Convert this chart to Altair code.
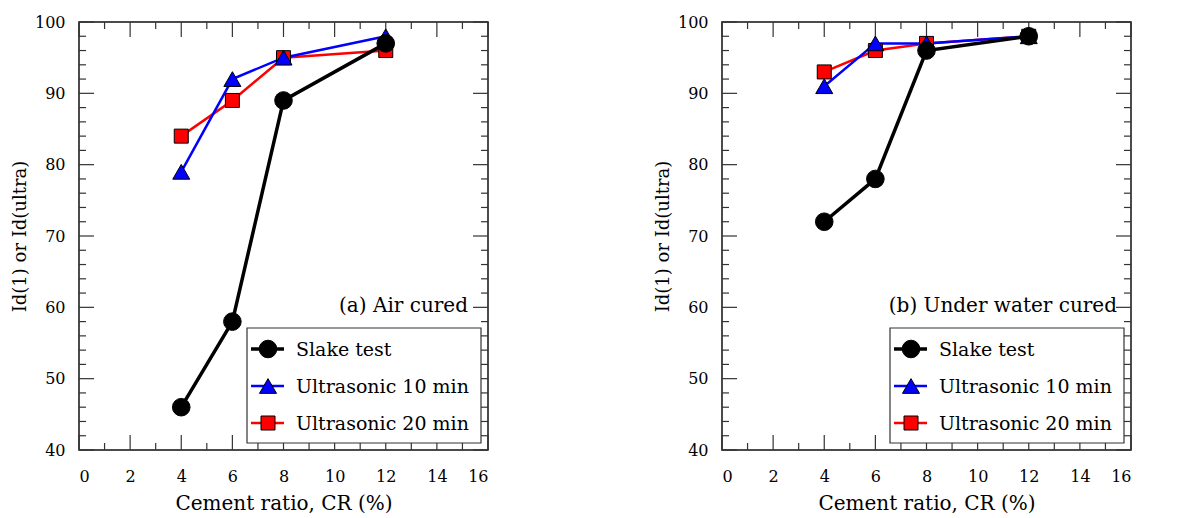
import altair as alt
import pandas as pd

# ---------------- data ----------------
cr = [4, 6, 8, 12]
air_slake = [46, 58, 89, 97]
air_u10 = [79, 92, 95, 98]
air_u20 = [84, 89, 95, 96]
water_slake = [72, 78, 96, 98]
water_u10 = [91, 97, 97, 98]
water_u20 = [93, 96, 97, 98]

series_names = ["Slake test", "Ultrasonic 10 min", "Ultrasonic 20 min"]
panel_labels = ["(a) Air cured", "(b) Under water cured"]
x_title = "Cement ratio, CR (%)"
y_title = "Id(1) or Id(ultra)"
x_ticks = list(range(0, 17, 2))
x_minor = list(range(1, 16, 2))
y_ticks = list(range(40, 101, 10))
y_minor = [v for v in range(42, 100, 2) if v % 10 != 0]

FONT = "DejaVu Serif"
W, H = 409, 428

style = {
    "Slake test": dict(color="#000000", shape="circle", size=310, lw=3.5),
    "Ultrasonic 10 min": dict(color="#0000FF", shape="triangle-up", size=290, lw=2.5),
    "Ultrasonic 20 min": dict(color="#FF0000", shape="square", size=196, lw=2.5),
}

xs = alt.Scale(domain=[0, 16], nice=False, zero=False)
ys = alt.Scale(domain=[40, 100], nice=False, zero=False)


def panel(values, label, text_right):
    layers = []

    def xt(vals, ln):
        d = pd.DataFrame({"x": vals})
        bot = alt.Chart(d).mark_rule(color="#333333", strokeWidth=1.2).encode(
            x=alt.X("x:Q", scale=xs), y=alt.value(H), y2=alt.value(H - ln))
        top = alt.Chart(d).mark_rule(color="#333333", strokeWidth=1.2).encode(
            x=alt.X("x:Q", scale=xs), y=alt.value(0), y2=alt.value(ln))
        return [bot, top]

    def yt(vals, ln):
        d = pd.DataFrame({"y": vals})
        lft = alt.Chart(d).mark_rule(color="#333333", strokeWidth=1.2).encode(
            y=alt.Y("y:Q", scale=ys), x=alt.value(0), x2=alt.value(ln))
        rgt = alt.Chart(d).mark_rule(color="#333333", strokeWidth=1.2).encode(
            y=alt.Y("y:Q", scale=ys), x=alt.value(W), x2=alt.value(W - ln))
        return [lft, rgt]

    layers += xt(x_ticks, 15) + xt(x_minor, 7) + yt(y_ticks, 15) + yt(y_minor, 7)

    axes_df = pd.DataFrame({"x": [0, 16], "y": [40, 100]})
    axes = alt.Chart(axes_df).mark_point(opacity=0).encode(
        x=alt.X("x:Q", scale=xs, title=x_title,
                axis=alt.Axis(values=x_ticks, ticks=False, domain=False, grid=False,
                              labelPadding=18, titlePadding=9, labelFontSize=16,
                              titleFontSize=20, labelFont=FONT, titleFont=FONT,
                              titleFontWeight="normal", labelColor="#000000",
                              titleColor="#000000")),
        y=alt.Y("y:Q", scale=ys, title=y_title,
                axis=alt.Axis(values=y_ticks, ticks=False, domain=False, grid=False,
                              labelPadding=14, titlePadding=5, labelFontSize=16,
                              titleFontSize=18, labelFont=FONT, titleFont=FONT,
                              titleFontWeight="normal", labelColor="#000000",
                              titleColor="#000000")),
    )
    layers.append(axes)

    for name in reversed(series_names):
        st = style[name]
        d = pd.DataFrame({"cr": cr, "v": values[name]})
        ln = alt.Chart(d).mark_line(color=st["color"], strokeWidth=st["lw"]).encode(
            x=alt.X("cr:Q", scale=xs), y=alt.Y("v:Q", scale=ys))
        layers.append(ln)
    for name in reversed(series_names):
        st = style[name]
        d = pd.DataFrame({"cr": cr, "v": values[name]})
        pt = alt.Chart(d).mark_point(filled=True, fill=st["color"], stroke="#000000",
                                     strokeWidth=1, opacity=1, shape=st["shape"],
                                     size=st["size"]).encode(
            x=alt.X("cr:Q", scale=xs), y=alt.Y("v:Q", scale=ys))
        layers.append(pt)

    lab = alt.Chart(pd.DataFrame({"t": [label]})).mark_text(
        align="right", baseline="alphabetic", font=FONT, fontSize=20, color="#000000").encode(
        x=alt.value(text_right), y=alt.value(290), text="t:N")
    layers.append(lab)

    box = alt.Chart(pd.DataFrame({"a": [0]})).mark_rect(
        fill="white", stroke="#333333", strokeWidth=1.2).encode(
        x=alt.value(168), x2=alt.value(W - 7), y=alt.value(306), y2=alt.value(H - 7))
    layers.append(box)
    rows = [327, 364, 401]
    for name, ry in zip(series_names, rows):
        st = style[name]
        one = pd.DataFrame({"t": [name]})
        layers.append(alt.Chart(one).mark_rule(color=st["color"], strokeWidth=st["lw"]).encode(
            x=alt.value(172), x2=alt.value(205), y=alt.value(ry)))
        layers.append(alt.Chart(one).mark_point(filled=True, fill=st["color"], stroke="#000000",
                                                strokeWidth=1, opacity=1, shape=st["shape"],
                                                size=st["size"]).encode(
            x=alt.value(189), y=alt.value(ry)))
        layers.append(alt.Chart(one).mark_text(align="left", baseline="middle", font=FONT,
                                               fontSize=19, color="#000000").encode(
            x=alt.value(217), y=alt.value(ry + 1), text="t:N"))

    return alt.layer(*layers).properties(width=W, height=H)


left = panel({"Slake test": air_slake, "Ultrasonic 10 min": air_u10,
              "Ultrasonic 20 min": air_u20}, panel_labels[0], 389)
right = panel({"Slake test": water_slake, "Ultrasonic 10 min": water_u10,
               "Ultrasonic 20 min": water_u20}, panel_labels[1], 395)

chart = alt.hconcat(left, right, spacing=161).properties(
    padding={"left": 2, "top": 5, "right": 0, "bottom": 0},
    background="white",
).configure_view(stroke="#111111", strokeWidth=1.5)

chart.save("out.html", embed_options={"renderer": "svg", "actions": False})
